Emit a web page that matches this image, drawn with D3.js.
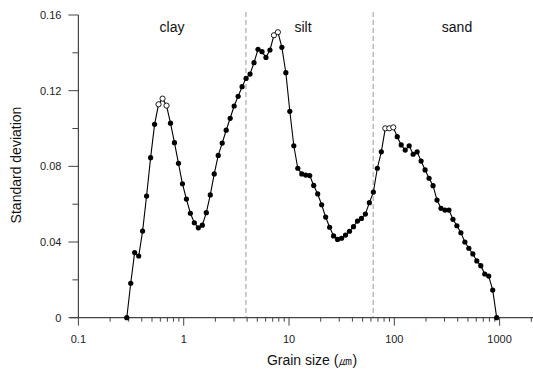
<!DOCTYPE html>
<html><head><meta charset="utf-8">
<script src="https://cdn.jsdelivr.net/npm/d3@7"></script>
<style>
body{margin:0;background:#fff;}
text{font-family:"Liberation Sans",Arial,sans-serif;}
</style></head>
<body><svg id="c" width="533" height="369"></svg>
<script>
// Grain size (µm)
const grainSize = [0.288,0.314,0.342,0.374,0.407,0.444,0.485,0.529,0.577,0.630,0.687,0.749,0.817,0.892,0.973,1.061,1.157,1.262,1.377,1.502,1.639,1.788,1.950,2.127,2.321,2.532,2.762,3.013,3.287,3.585,3.911,4.266,4.654,5.078,5.539,6.042,6.592,7.191,7.845,8.557,9.333,10.18,11.11,12.12,13.22,14.42,15.73,17.16,18.72,20.42,22.28,24.30,26.51,28.92,31.55,34.41,37.54,40.95,44.67,48.72,53.15,57.98,63.25,69.00,75.27,82.11,89.57,97.7,106.6,116.3,126.9,138.4,151.0,164.7,179.6,196.0,213.8,233.2,254.4,277.5,302.7,330.3,360.3,393.0,428.7,467.7,510.2,556.6,607.2,662.4,722.5,788.2,859.9,937.9];
// Standard deviation
const stdDev = [0,0.0182,0.0344,0.0326,0.0458,0.0643,0.0846,0.1022,0.1128,0.1158,0.1121,0.1028,0.0925,0.0816,0.0708,0.0627,0.0552,0.0502,0.0475,0.0489,0.0555,0.0649,0.0760,0.0858,0.0923,0.0991,0.1054,0.1119,0.1170,0.1221,0.1265,0.1288,0.1348,0.1419,0.1406,0.1376,0.1415,0.1493,0.1509,0.1429,0.1295,0.1091,0.0909,0.0790,0.0760,0.0754,0.0751,0.0699,0.0654,0.0597,0.0532,0.0478,0.0432,0.0414,0.0420,0.0437,0.0457,0.0481,0.0511,0.0525,0.0548,0.0608,0.0664,0.0790,0.0877,0.1001,0.1001,0.1006,0.0957,0.0913,0.0886,0.0909,0.0864,0.0877,0.0828,0.0781,0.0737,0.0698,0.0622,0.0578,0.0569,0.0569,0.0520,0.0486,0.0449,0.0400,0.0367,0.0337,0.0300,0.0275,0.0231,0.0220,0.0146,0];
// indices drawn as open circles (peaks)
const openIdx = [8,9,10,37,38,65,66,67];
// fraction boundaries (µm) and labels
const boundaries = [3.9, 63];
const fractions = ["clay","silt","sand"];
const fractionPos = [0.774, 13.6, 394];
const yTicks = [0,0.04,0.08,0.12,0.16];
const xTicks = [0.1,1,10,100,1000];

const svg = d3.select("#c");
const x = d3.scaleLog().domain([0.1, 2075]).range([78.4, 533]);
const y = d3.scaleLinear().domain([0, 0.16]).range([317.7, 15]);
const axisCol = "#444";

// x axis
const xMinor = [];
for (let d = 0.1; d < 2000; d *= 10) for (let k = 2; k <= 9; k++) { const v = d * k; if (v <= 2000) xMinor.push(v); }
const gx = svg.append("g").attr("transform","translate(0,317.7)");
gx.append("line").attr("x1",70).attr("x2",533).attr("stroke",axisCol).attr("stroke-width",1.2);
gx.selectAll(".mn").data(xMinor).join("line").attr("x1",d=>x(d)).attr("x2",d=>x(d)).attr("y1",0).attr("y2",4).attr("stroke",axisCol);
gx.selectAll(".mj").data(xTicks).join("line").attr("x1",d=>x(d)).attr("x2",d=>x(d)).attr("y1",0).attr("y2",8).attr("stroke",axisCol);
gx.selectAll(".lb").data(xTicks).join("text").attr("x",d=>x(d)).attr("y",25).attr("text-anchor","middle")
  .attr("font-size",11).attr("fill","#222").text(d=>d3.format("~g")(d));

// y axis
const gy = svg.append("g").attr("transform","translate(78.4,0)");
gy.append("line").attr("y1",y(0.16)).attr("y2",y(0)).attr("stroke",axisCol).attr("stroke-width",1.2);
gy.selectAll(".mn").data(d3.range(0.02,0.16,0.04)).join("line").attr("x1",-6).attr("x2",0).attr("y1",d=>y(d)).attr("y2",d=>y(d)).attr("stroke",axisCol);
gy.selectAll(".mj").data(yTicks).join("line").attr("x1",-10).attr("x2",0).attr("y1",d=>y(d)).attr("y2",d=>y(d)).attr("stroke",axisCol);
gy.selectAll(".lb").data(yTicks).join("text").attr("x",-17).attr("y",d=>y(d)+4).attr("text-anchor","end")
  .attr("font-size",11).attr("fill","#222").text(d=>d===0?"0":d.toFixed(2));

// boundaries
svg.selectAll(".bd").data(boundaries).join("line").attr("x1",d=>x(d)).attr("x2",d=>x(d)).attr("y1",12).attr("y2",317)
  .attr("stroke","#999").attr("stroke-dasharray","5,3");
svg.selectAll(".fr").data(fractions).join("text").attr("x",(d,i)=>x(fractionPos[i])).attr("y",32).attr("text-anchor","middle")
  .attr("font-size",14).attr("fill","#111").text(d=>d);

// line + points
const pts = grainSize.map((g,i)=>({g, s:stdDev[i], open: openIdx.includes(i)}));
svg.append("path").datum(pts).attr("fill","none").attr("stroke","#000").attr("stroke-width",1.1)
  .attr("d", d3.line().x(d=>x(d.g)).y(d=>y(d.s)));
svg.selectAll(".pt").data(pts).join("circle").attr("cx",d=>x(d.g)).attr("cy",d=>y(d.s)).attr("r",2.6)
  .attr("fill",d=>d.open?"#fff":"#000").attr("stroke","#000").attr("stroke-width",d=>d.open?0.9:0);

// titles
svg.append("text").attr("x",312).attr("y",365).attr("text-anchor","middle").attr("font-size",14).attr("fill","#111").text("Grain size (㎛)");
svg.append("text").attr("transform","translate(21,165) rotate(-90)").attr("text-anchor","middle").attr("font-size",14).attr("fill","#111").text("Standard deviation");
</script></body></html>
